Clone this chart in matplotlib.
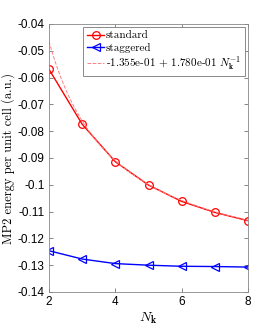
import matplotlib

matplotlib.use("Agg")
import matplotlib.pyplot as plt
import numpy as np

plt.rcParams["mathtext.fontset"] = "cm"
plt.rcParams["font.family"] = ["Liberation Sans", "DejaVu Sans"]

n_k = [2, 3, 4, 5, 6, 7, 8]
e_standard = [-0.0569, -0.0774, -0.0914, -0.1001, -0.1062, -0.1103, -0.1134]
e_staggered = [-0.1246, -0.1277, -0.1294, -0.1300, -0.1304, -0.1305, -0.1307]
fit_a = -1.355e-01
fit_b = 1.780e-01

x_ticks = [2, 4, 6, 8]
y_ticks = [-0.14, -0.13, -0.12, -0.11, -0.1, -0.09, -0.08, -0.07, -0.06, -0.05, -0.04]
y_labels = ["-0.14", "-0.13", "-0.12", "-0.11", "-0.1", "-0.09", "-0.08",
            "-0.07", "-0.06", "-0.05", "-0.04"]

serif = ["cmr10", "DejaVu Serif"]

fig = plt.figure(figsize=(2.74, 3.29), dpi=100)
ax = fig.add_axes([49 / 274, 1 - 292 / 329, 199 / 274, 268 / 329])

ax.plot(n_k, e_standard, "o-", color="red", linewidth=1.0, markersize=5.5,
        markerfacecolor="none", markeredgewidth=0.9, label="standard")
ax.plot(n_k, e_staggered, "<-", color="blue", linewidth=1.0, markersize=5.5,
        markerfacecolor="none", markeredgewidth=0.9, label="staggered")

x_fit = np.linspace(n_k[0], n_k[-1], 200)
ax.plot(x_fit, fit_a + fit_b / x_fit, "--", color="#ff8080", linewidth=0.7,
        label=r"-1.355e-01 + 1.780e-01 $N_{\mathbf{k}}^{-1}$")

ax.set_xlim(2, 8)
ax.set_ylim(-0.14, -0.04)
ax.set_xticks(x_ticks)
ax.set_yticks(y_ticks)
ax.set_yticklabels(y_labels)
ax.tick_params(direction="in", top=True, right=True, labelsize=8.5,
               length=3, width=0.5, color="#555555", pad=3)
for s in ax.spines.values():
    s.set_color("#888888")
    s.set_linewidth(0.6)

ax.set_xlabel(r"$N_{\mathbf{k}}$", fontsize=10, labelpad=2)
ax.set_ylabel("MP2 energy per unit cell (a.u.)", fontsize=9, labelpad=2,
              family=serif)

leg = ax.legend(loc="upper right", prop={"family": serif, "size": 8},
                handlelength=1.6, handletextpad=0.15, borderpad=0.3, labelspacing=0.2,
                fancybox=False, framealpha=1, borderaxespad=0.3)
leg.get_frame().set_edgecolor("#777777")
leg.get_frame().set_linewidth(0.6)

fig.savefig("out.png", dpi=100)
